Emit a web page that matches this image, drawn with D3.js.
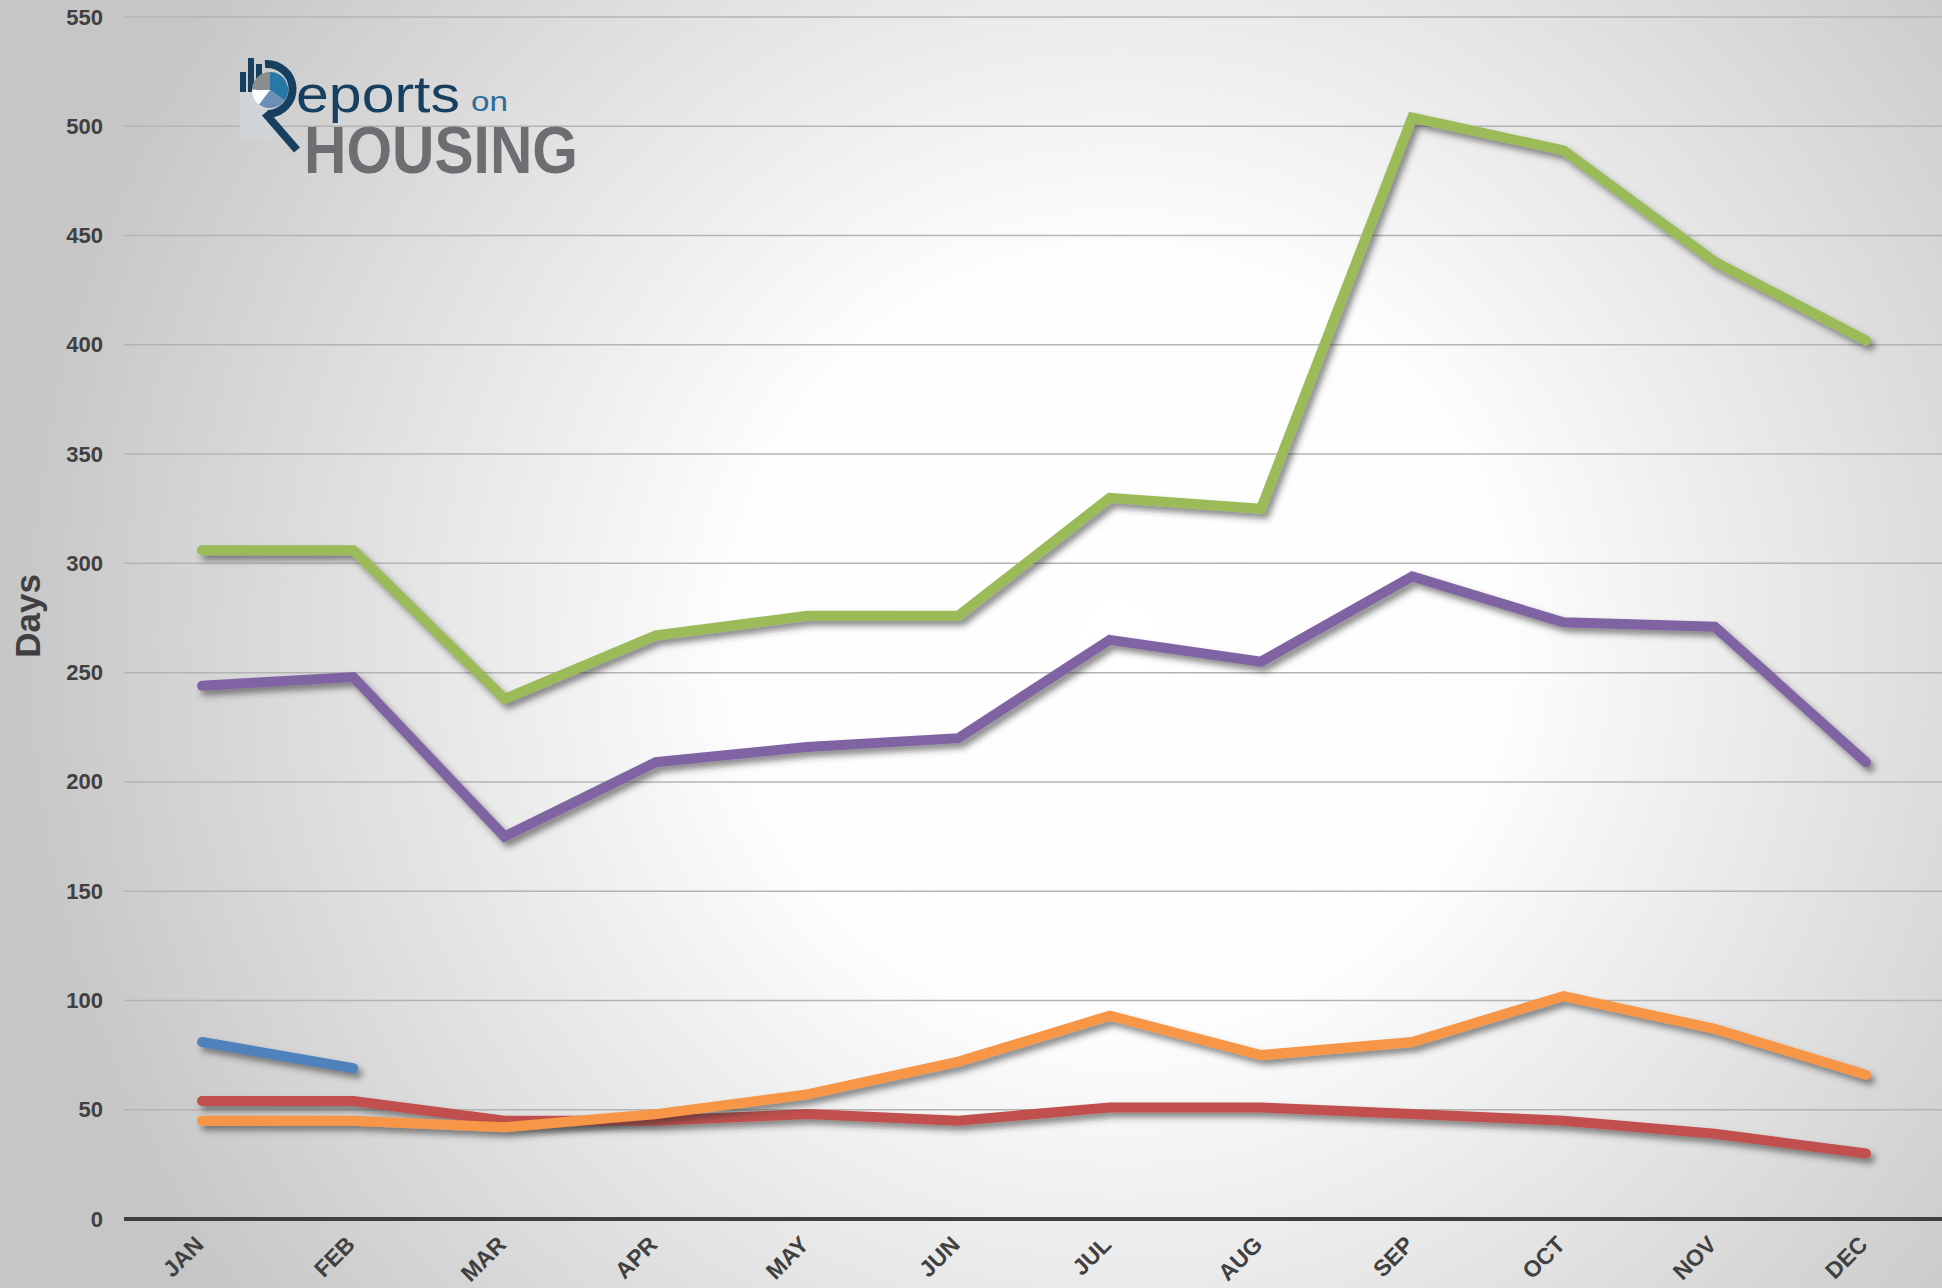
<!DOCTYPE html>
<html>
<head>
<meta charset="utf-8">
<script src="https://cdn.jsdelivr.net/npm/d3@7"></script>
<style>
    body { margin: 0; overflow: hidden; }
    svg { display: block; }
    text { font-family: "Liberation Sans", Arial, sans-serif; }
</style>
</head>
<body>
<script>
// months on the x axis
const months = ["JAN", "FEB", "MAR", "APR", "MAY", "JUN", "JUL", "AUG", "SEP", "OCT", "NOV", "DEC"];
const yTicks = [0, 50, 100, 150, 200, 250, 300, 350, 400, 450, 500, 550];

// series values (days)
const blueDays = [81, 69];
const redDays = [54, 54, 45, 45, 48, 45, 51, 51, 48, 45, 39, 30];
const orangeDays = [45, 45, 42, 48, 57, 72, 93, 75, 81, 102, 87, 66];
const purpleDays = [244, 248, 175, 209, 216, 220, 265, 255, 294, 273, 271, 209];
const greenDays = [306, 306, 238, 267, 276, 276, 330, 325, 504, 489, 438, 402];

const series = [
    { values: blueDays, color: "#4f81bd" },
    { values: redDays, color: "#c0504d" },
    { values: orangeDays, color: "#f79646" },
    { values: purpleDays, color: "#8064a2" },
    { values: greenDays, color: "#9bbb59" }
];

const width = 1942, height = 1288;

const svg = d3.select("body").append("svg")
    .attr("width", width)
    .attr("height", height);

const defs = svg.append("defs");

const bg = defs.append("radialGradient")
    .attr("id", "bg")
    .attr("gradientUnits", "userSpaceOnUse")
    .attr("cx", 1120).attr("cy", 640).attr("r", 1120);
bg.append("stop").attr("offset", "0").attr("stop-color", "#ffffff");
bg.append("stop").attr("offset", "0.35").attr("stop-color", "#fdfdfd");
bg.append("stop").attr("offset", "1").attr("stop-color", "#c6c6c6");

// shadow region in page units so flat lines are not clipped
const shadow = defs.append("filter")
    .attr("id", "shadow")
    .attr("filterUnits", "userSpaceOnUse")
    .attr("x", 0).attr("y", 0)
    .attr("width", width).attr("height", height);
shadow.append("feDropShadow")
    .attr("dx", 4).attr("dy", 5)
    .attr("stdDeviation", 3)
    .attr("flood-color", "#333")
    .attr("flood-opacity", 0.55);

svg.append("rect")
    .attr("width", width)
    .attr("height", height)
    .attr("fill", "url(#bg)");

const x = d3.scalePoint()
    .domain(months)
    .range([202, 1866]);

const y = d3.scaleLinear()
    .domain([0, 550])
    .range([1219, 17]);

// gridlines
svg.append("g")
    .selectAll("line")
    .data(yTicks.filter(d => d > 0))
    .join("line")
    .attr("x1", 124)
    .attr("x2", width)
    .attr("y1", d => y(d))
    .attr("y2", d => y(d))
    .attr("stroke", "#b4b4b4")
    .attr("stroke-width", 1.5);

// y axis labels
const yAxis = svg.append("g")
    .attr("transform", "translate(103,0)")
    .call(d3.axisLeft(y).tickValues(yTicks).tickSize(0).tickPadding(0));
yAxis.select(".domain").remove();
yAxis.selectAll("text")
    .attr("font-size", 22)
    .attr("font-weight", "bold")
    .attr("fill", "#404040");

svg.append("text")
    .attr("transform", "translate(40,616) rotate(-90)")
    .attr("text-anchor", "middle")
    .attr("font-size", 35)
    .attr("font-weight", "bold")
    .attr("fill", "#404040")
    .text("Days");

// logo
const logo = svg.append("g");
logo.append("rect")
    .attr("x", 240).attr("y", 90)
    .attr("width", 38).attr("height", 50)
    .attr("fill", "#d2d5d8");
logo.append("rect").attr("x", 240).attr("y", 72).attr("width", 6).attr("height", 20).attr("fill", "#173f5f");
logo.append("rect").attr("x", 248).attr("y", 58).attr("width", 6).attr("height", 34).attr("fill", "#173f5f");
logo.append("rect").attr("x", 256).attr("y", 64).attr("width", 6).attr("height", 28).attr("fill", "#173f5f");
const pieCx = 270, pieCy = 90, pieR = 18;
const arc = d3.arc().innerRadius(0).outerRadius(pieR);
const slices = [
    { start: 0, end: 2.2, color: "#2878a5" },
    { start: 2.2, end: 3.8, color: "#6b8fb6" },
    { start: 3.8, end: 4.75, color: "#ffffff" },
    { start: 4.75, end: 6.283, color: "#8a8c8e" }
];
logo.selectAll("path.pie")
    .data(slices)
    .join("path")
    .attr("class", "pie")
    .attr("transform", `translate(${pieCx},${pieCy})`)
    .attr("d", d => arc({ startAngle: d.start, endAngle: d.end }))
    .attr("fill", d => d.color);
logo.append("path")
    .attr("d", "M265,64 A26,25 0 1 1 268,114")
    .attr("fill", "none")
    .attr("stroke", "#173f5f")
    .attr("stroke-width", 8);
logo.append("line")
    .attr("x1", 265).attr("y1", 113)
    .attr("x2", 297).attr("y2", 150)
    .attr("stroke", "#173f5f")
    .attr("stroke-width", 8);
logo.append("text")
    .attr("x", 296).attr("y", 112)
    .attr("textLength", 164)
    .attr("lengthAdjust", "spacingAndGlyphs")
    .attr("font-family", "Lato, sans-serif")
    .attr("font-size", 52)
    .attr("fill", "#173f5f")
    .text("eports");
logo.append("text")
    .attr("x", 471).attr("y", 111)
    .attr("textLength", 37)
    .attr("lengthAdjust", "spacingAndGlyphs")
    .attr("font-family", "Lato, sans-serif")
    .attr("font-size", 27)
    .attr("fill", "#2a6d99")
    .text("on");
logo.append("text")
    .attr("transform", "translate(304,173) scale(1,1.1)")
    .attr("textLength", 274)
    .attr("lengthAdjust", "spacingAndGlyphs")
    .attr("font-family", "Lato, sans-serif")
    .attr("font-weight", "bold")
    .attr("font-size", 60)
    .attr("fill", "#6d6e71")
    .text("HOUSING");

// zero axis line
svg.append("line")
    .attr("x1", 124).attr("x2", width)
    .attr("y1", y(0)).attr("y2", y(0))
    .attr("stroke", "#404040")
    .attr("stroke-width", 4);

// x labels
svg.append("g")
    .selectAll("text")
    .data(months)
    .join("text")
    .attr("transform", d => `translate(${x(d) + 3},${y(0) + 27}) rotate(-45)`)
    .attr("text-anchor", "end")
    .attr("font-size", 23)
    .attr("font-weight", "bold")
    .attr("fill", "#404040")
    .text(d => d);

// lines
const line = d3.line()
    .x((d, i) => x(months[i]))
    .y(d => y(d));

svg.append("g")
    .selectAll("path")
    .data(series)
    .join("path")
    .attr("d", d => line(d.values))
    .attr("fill", "none")
    .attr("stroke", d => d.color)
    .attr("stroke-width", 10)
    .attr("stroke-linecap", "round")
    .attr("stroke-linejoin", "miter")
    .attr("filter", "url(#shadow)");
</script>
</body>
</html>
